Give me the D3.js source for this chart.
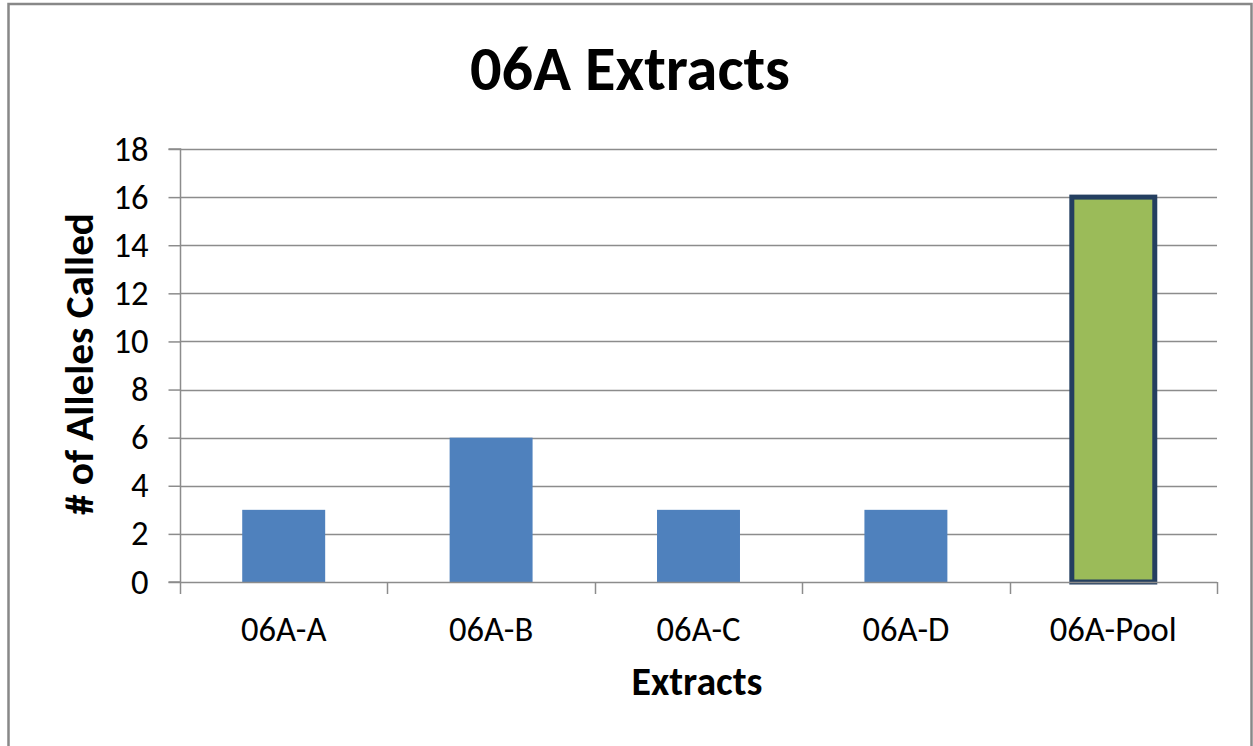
<!DOCTYPE html>
<html>
<head>
<meta charset="utf-8">
<script src="https://cdn.jsdelivr.net/npm/d3@7"></script>
<style>
html,body{margin:0;padding:0;background:#fff;}
svg{display:block;}
text{font-family:Calibri, Carlito, Lato, "Open Sans", sans-serif;}
</style>
</head>
<body>
<svg id="chart" width="1253" height="746"></svg>
<script>
const categories = ["06A-A","06A-B","06A-C","06A-D","06A-Pool"];
const values = [3, 6, 3, 3, 16];
const yTicks = [0,2,4,6,8,10,12,14,16,18];
const title = "06A Extracts";
const xTitle = "Extracts";
const yTitle = "# of Alleles Called";

const svg = d3.select("#chart");
const W = 1253, H = 746;
const plot = {left:180, right:1217, top:149, bottom:582};

// outer border
svg.append("rect").attr("x",8.5).attr("y",4).attr("width",1243).attr("height",H+10)
  .attr("fill","#fff").attr("stroke","#888").attr("stroke-width",2.5);

const x = d3.scaleBand().domain(categories).range([plot.left, plot.right]).paddingInner(0).paddingOuter(0);
const y = d3.scaleLinear().domain([0,18]).range([plot.bottom, plot.top]);

function fit(sel, target){
  const w = sel.node().getComputedTextLength();
  const fs = parseFloat(sel.attr("font-size"));
  sel.attr("font-size", fs*target/w);
}

// gridlines
svg.append("g").selectAll("line").data(yTicks.filter(d=>d>0)).join("line")
  .attr("x1",plot.left).attr("x2",plot.right)
  .attr("y1",d=>Math.round(y(d))+0.5).attr("y2",d=>Math.round(y(d))+0.5)
  .attr("stroke","#8c8c8c").attr("stroke-width",1.5);

// y axis
const yAxis = d3.axisLeft(y).tickValues(yTicks).tickSize(12).tickPadding(20).tickFormat(d3.format("d"));
const gy = svg.append("g").attr("transform",`translate(${plot.left+0.5},0)`).call(yAxis);
gy.select(".domain").attr("stroke","#8c8c8c").attr("stroke-width",1.5).attr("d",`M-12,${y(18)}H0V${y(0)}H-12`);
gy.selectAll(".tick line").attr("stroke","#8c8c8c").attr("stroke-width",1.5);
gy.selectAll(".tick text").attr("font-size",29).attr("fill","#000").attr("font-family","Calibri, Carlito, Lato, sans-serif");

// bars
const barW = x.bandwidth()*0.4;
svg.append("g").selectAll("rect").data(categories).join("rect")
  .attr("x",(d)=>x(d)+x.bandwidth()/2-barW/2)
  .attr("y",(d,i)=>y(values[i]))
  .attr("width",barW)
  .attr("height",(d,i)=>y(0)-y(values[i]))
  .attr("fill",(d,i)=>i===4?"#9bbb59":"#4f81bd")
  .attr("stroke",(d,i)=>i===4?"#243f60":"none")
  .attr("stroke-width",(d,i)=>i===4?5:0);

// x axis
const xAxis = d3.axisBottom(x).tickSize(0).tickPadding(34);
const gx = svg.append("g").attr("transform",`translate(0,${plot.bottom+0.5})`).call(xAxis);
gx.select(".domain").attr("stroke","#8c8c8c").attr("stroke-width",1.5).attr("d",`M${plot.left},0H${plot.right}`);
gx.selectAll(".tick line").remove();
gx.selectAll(".tick text").attr("font-size",29).attr("fill","#000").attr("font-family","Calibri, Carlito, Lato, sans-serif");
// category boundary ticks
const bounds = categories.map(c=>x(c)).concat([plot.right]);
svg.append("g").selectAll("line").data(bounds).join("line")
  .attr("x1",d=>Math.round(d)+0.5).attr("x2",d=>Math.round(d)+0.5)
  .attr("y1",plot.bottom).attr("y2",plot.bottom+12)
  .attr("stroke","#8c8c8c").attr("stroke-width",1.5);

// fit category label size
const poolText = gx.selectAll(".tick text").filter(d=>d==="06A-Pool");
const pw = poolText.node().getComputedTextLength();
gx.selectAll(".tick text").attr("font-size",29*127/pw);

// fit y tick label size using "18" height approx - keep same as category labels
gy.selectAll(".tick text").attr("font-size",29*127/pw);

// title
const t = svg.append("text").attr("x",630).attr("y",90).attr("text-anchor","middle")
  .attr("font-weight","bold").attr("font-size",56).attr("fill","#000").text(title);
fit(t,320);

// x title
const xt = svg.append("text").attr("x",697).attr("y",695).attr("text-anchor","middle")
  .attr("font-weight","bold").attr("font-size",32).attr("fill","#000").text(xTitle);
fit(xt,131);

// y title
const yt = svg.append("text").attr("transform","translate(93,364) rotate(-90)").attr("text-anchor","middle")
  .attr("font-weight","bold").attr("font-size",32).attr("fill","#000").text(yTitle);
fit(yt,302);
</script>
</body>
</html>
